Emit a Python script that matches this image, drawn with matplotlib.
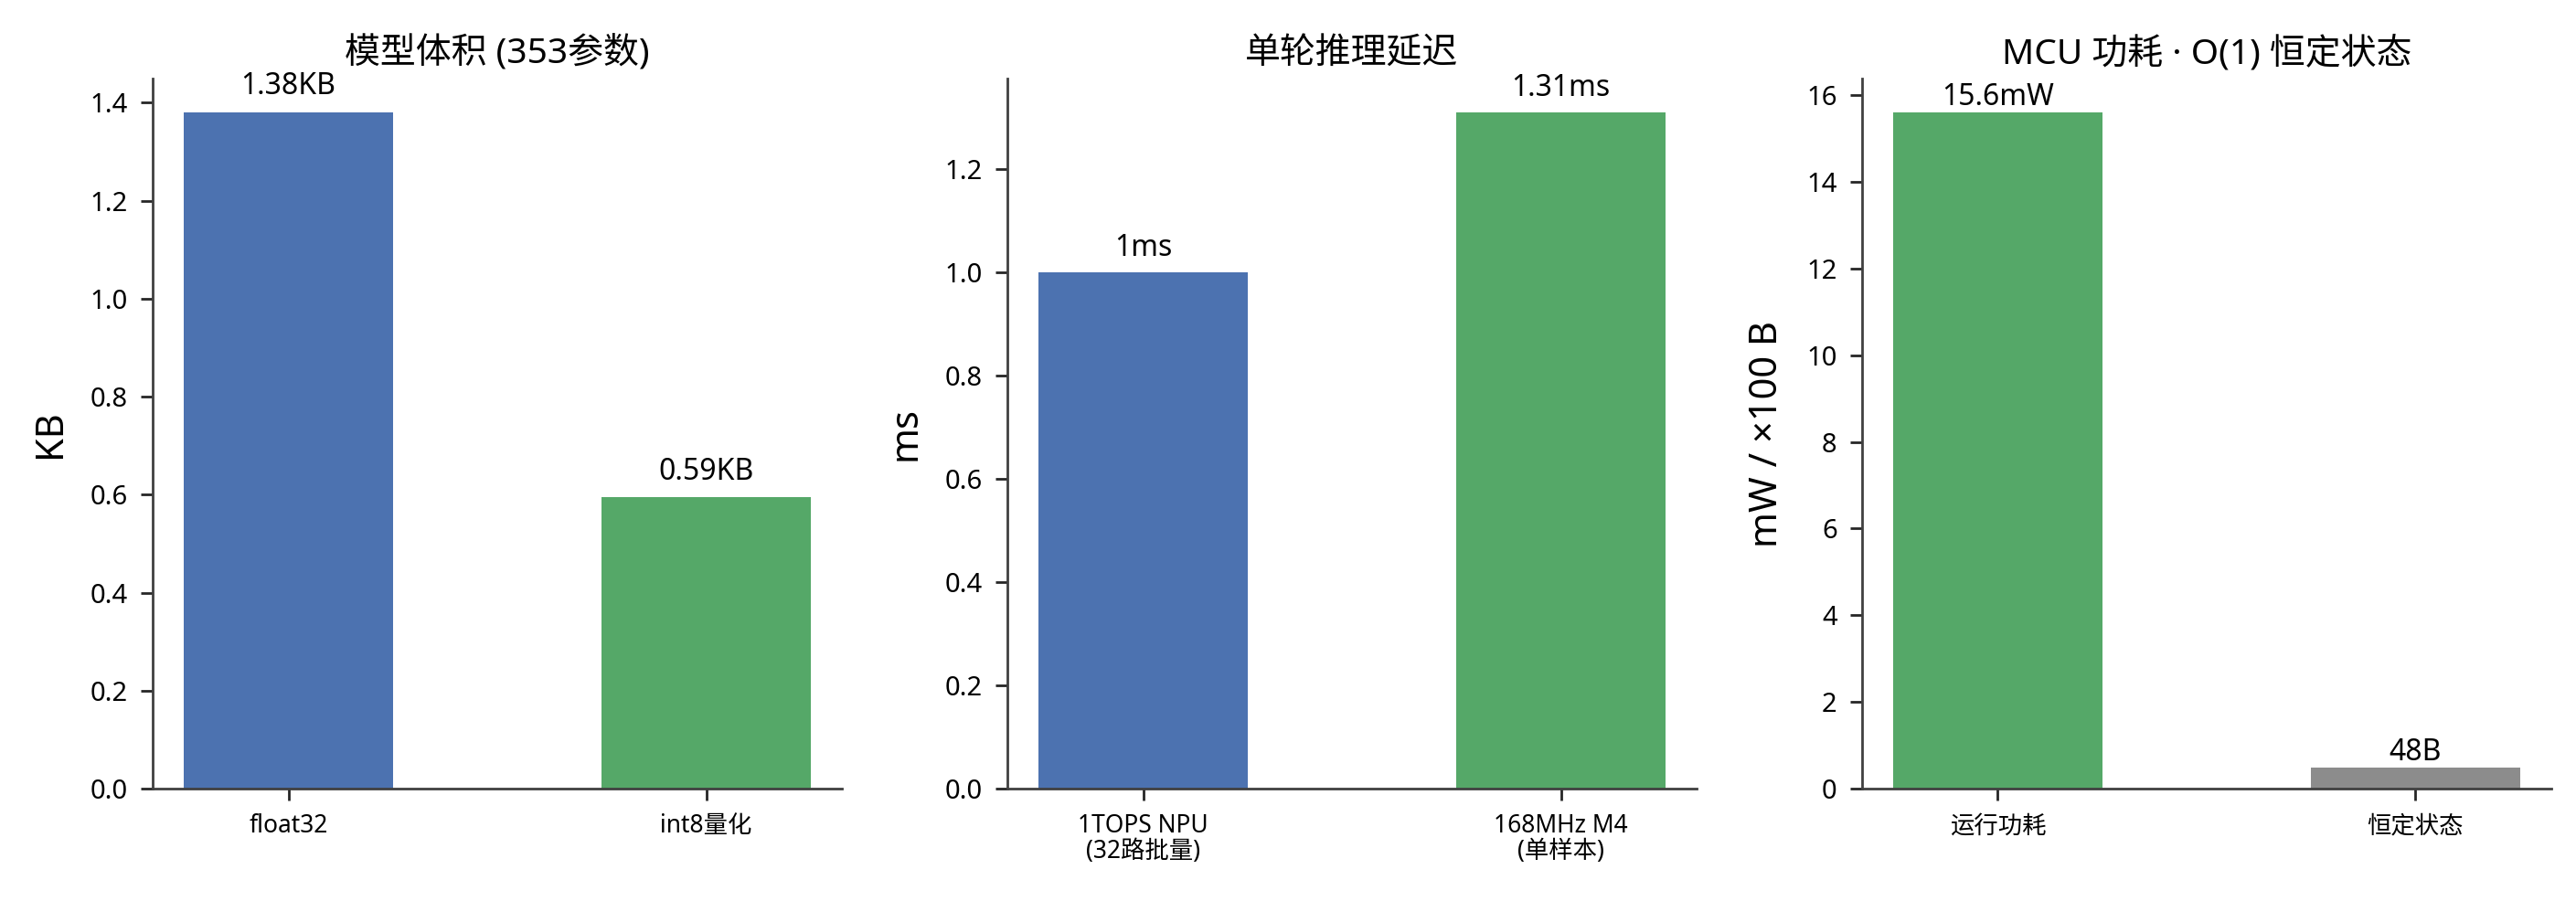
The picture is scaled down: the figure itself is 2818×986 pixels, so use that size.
import matplotlib
matplotlib.use('Agg')
import matplotlib.pyplot as plt

# Latin first so that · and × stay narrow, CJK glyphs fall through to Noto CJK
plt.rcParams['font.family'] = ['Noto Sans', 'Noto Sans CJK SC', 'DejaVu Sans']
plt.rcParams['axes.unicode_minus'] = False

# panel 1: model size
size_cats = ['float32', 'int8量化']
size_vals = [1.38, 0.594]
size_text = ['1.38KB', '0.59KB']

# panel 2: latency per inference
lat_cats = ['1TOPS NPU\n(32路批量)', '168MHz M4\n(单样本)']
lat_vals = [1.0, 1.31]
lat_text = ['1ms', '1.31ms']

# panel 3: MCU power / constant state
mcu_cats = ['运行功耗', '恒定状态']
mcu_vals = [15.6, 0.48]
mcu_text = ['15.6mW', '48B']

titles = ['模型体积 (353参数)', '单轮推理延迟', 'MCU 功耗 · O(1) 恒定状态']
ylabels = ['KB', 'ms', 'mW / ×100 B']

BLUE = '#4C72B0'
GREEN = '#55A868'
GRAY = '#8C8C8C'

fig, axes = plt.subplots(1, 3, figsize=(14.09, 4.93), dpi=200)
fig.subplots_adjust(left=0.0593, right=0.9904, bottom=0.1247, top=0.9128, wspace=0.24)

panels = [
    (size_cats, size_vals, size_text, [BLUE, GREEN], 0.016),
    (lat_cats, lat_vals, lat_text, [BLUE, GREEN], 0.014),
    (mcu_cats, mcu_vals, mcu_text, [GREEN, GRAY], 0.0),
]

for ax, (cats, vals, txt, cols, off), title, ylab in zip(axes, panels, titles, ylabels):
    x = range(len(cats))
    ax.bar(x, vals, width=0.5, color=cols)
    top = max(vals)
    for xi, v, t in zip(x, vals, txt):
        ax.text(xi, v + top * off, t, ha='center', va='bottom', fontsize=11.5)
    ax.set_xticks(list(x))
    ax.set_xticklabels(cats, fontsize=9.5, linespacing=1.0)
    ax.set_title(title, fontsize=14)
    ax.set_ylabel(ylab, fontsize=15, labelpad=8)
    ax.tick_params(axis='y', labelsize=10.5, length=4.8, width=1.0, pad=5, color='.15')
    ax.tick_params(axis='x', length=4.8, width=1.0, pad=5, color='.15')
    for s in ['top', 'right']:
        ax.spines[s].set_visible(False)
    for s in ['left', 'bottom']:
        ax.spines[s].set_color('.25')
        ax.spines[s].set_linewidth(1.0)

fig.savefig('out.png', dpi=200)
